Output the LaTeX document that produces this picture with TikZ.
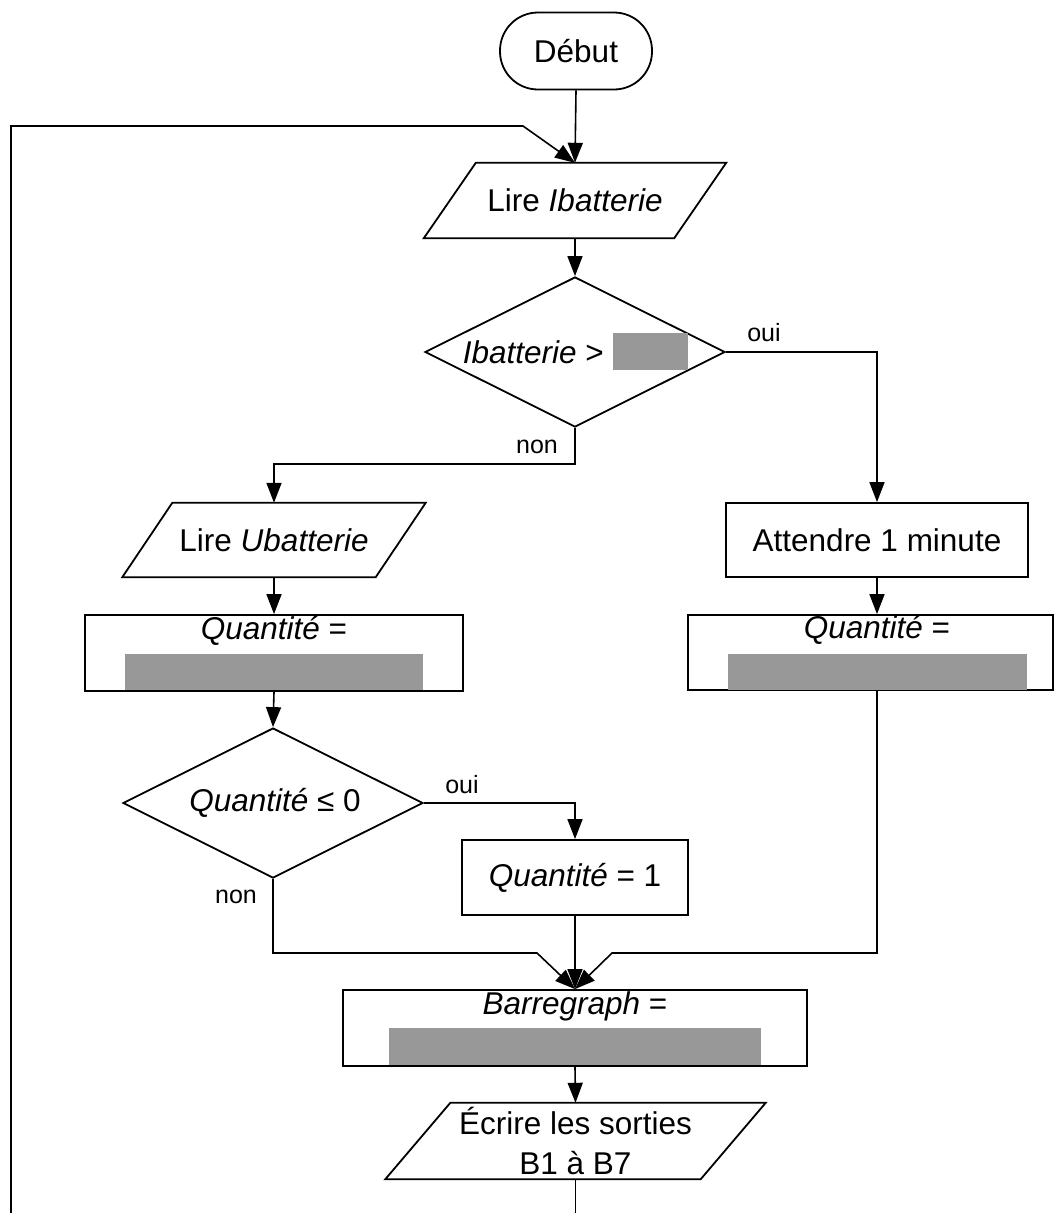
\documentclass[tikz,border=0pt]{standalone}
\usepackage{fontspec}
\setmainfont{Liberation Sans}
\usetikzlibrary{shapes.geometric,arrows.meta,calc}
\definecolor{redact}{RGB}{152,152,152}
\begin{document}
\begin{tikzpicture}[x=1pt,y=-1pt,
 base/.style={inner sep=0pt, align=center, font=\fontsize{31.5}{40}\selectfont},
 lbl/.style={inner sep=0pt, font=\fontsize{25}{30}\selectfont},
 box/.style={base, draw, line width=1.8pt},
 ionode/.style={base},
 decision/.style={diamond, draw, line width=1.8pt, inner sep=0pt, minimum width=300pt, minimum height=150pt},
 redacted/.style={fill=redact, draw=none, inner sep=0pt},
 shapeline/.style={draw, line width=1.8pt, line join=miter},
 arr/.style={line width=1.6pt, -{Triangle[length=20pt,width=15pt]}},
 ln/.style={line width=1.6pt},
]
\useasboundingbox (0,0) rectangle (1055,1213);

% start
\node[box, rounded corners=38pt, minimum width=152pt, minimum height=77pt] (debut) at (576,51) {Début};

% read Ibatterie
\node[ionode, minimum width=250pt, minimum height=75pt] (lireI) at (575,200.5) {Lire \textit{Ibatterie}};
\draw[shapeline] ($(lireI.south west)+(-26,0)$) -- ($(lireI.south east)+(-26,0)$) -- ($(lireI.north east)+(26,0)$) -- ($(lireI.north west)+(26,0)$) -- cycle;

% decision 1
\node[decision] (d1) at (575,352) {};
\node[base, anchor=east] (d1t) at (604,352) {\textit{Ibatterie} >};
\node[redacted, minimum width=75pt, minimum height=37pt] (d1g) at (650.5,351.5) {};

% read Ubatterie
\node[ionode, minimum width=253pt, minimum height=74pt] (lireU) at (274,540) {Lire \textit{Ubatterie}};
\draw[shapeline] ($(lireU.south west)+(-25,0)$) -- ($(lireU.south east)+(-25,0)$) -- ($(lireU.north east)+(25,0)$) -- ($(lireU.north west)+(25,0)$) -- cycle;

% Quantite left
\node[box, minimum width=378pt, minimum height=76pt] (qL) at (274,653) {};
\node[base] (qLt) at (274,631) {\textit{Quantité} =};
\node[redacted, minimum width=298pt, minimum height=36pt] (qLg) at (274,672) {};

% decision 2
\node[decision] (d2) at (273,803) {};
\node[base] (d2t) at (275,803) {\textit{Quantité} ≤ 0};

% Quantite = 1
\node[box, minimum width=226pt, minimum height=75pt] (q1) at (575,877.5) {\textit{Quantité} = 1};

% right branch
\node[box, minimum width=302pt, minimum height=74pt] (attendre) at (877,540) {Attendre 1 minute};
\node[box, minimum width=365pt, minimum height=75pt] (qR) at (870.5,652.5) {};
\node[base] (qRt) at (877,630) {\textit{Quantité} =};
\node[redacted, minimum width=299pt, minimum height=36pt] (qRg) at (877.5,672) {};

% Barregraph
\node[box, minimum width=464pt, minimum height=76pt] (barre) at (575,1028) {};
\node[base] (barret) at (575,1006) {\textit{Barregraph} =};
\node[redacted, minimum width=372pt, minimum height=37pt] (barreg) at (575,1046.5) {};

% write outputs
\node[ionode, minimum width=315pt, minimum height=76pt] (ecrire) at (575.5,1141) {Écrire les sorties\\B1 à B7};
\draw[shapeline] ($(ecrire.south west)+(-32.5,0)$) -- ($(ecrire.south east)+(-32.5,0)$) -- ($(ecrire.north east)+(32.5,0)$) -- ($(ecrire.north west)+(32.5,0)$) -- cycle;

% connectors
\draw[arr] (debut.south) -- (lireI.north);
\coordinate (fbBottom) at (11,1213);
\coordinate (fbCorner) at (11,126);
\coordinate (fbBend) at (523,126);
\draw[arr] (fbBottom) -- (fbCorner) -- (fbBend) -- (lireI.north);
\draw[arr] (lireI.south) -- (d1.north);

\draw[arr] (d1.east) -| (attendre.north);
\node[lbl] (oui1) at (764,333) {oui};

\coordinate (nonBend) at (575,464);
\draw[arr] (d1.south) -- (nonBend) -| (lireU.north);
\node[lbl] (non1) at (537,447) {non};

\draw[arr] (lireU.south) -- (qL.north);
\draw[arr] (qL.south) -- (d2.north);

\draw[arr] (d2.east) -| (q1.north);
\node[lbl] (oui2) at (462,785) {oui};

\draw[arr] (attendre.south) -- (attendre.south |- qR.north);

\coordinate (joinL) at (537,953);
\coordinate (joinR) at (612,953);
\draw[arr] (d2.south) |- (joinL) -- (barre.north);
\node[lbl] (non2) at (236,897) {non};
\draw[arr] (q1.south) -- (barre.north);
\draw[arr] (attendre.south |- qR.south) |- (joinR) -- (barre.north);

\draw[arr] (barre.south) -- (ecrire.north);
\coordinate (loopOut) at (575.5,1213);
\draw[ln] (ecrire.south) -- (loopOut);
\end{tikzpicture}
\end{document}
